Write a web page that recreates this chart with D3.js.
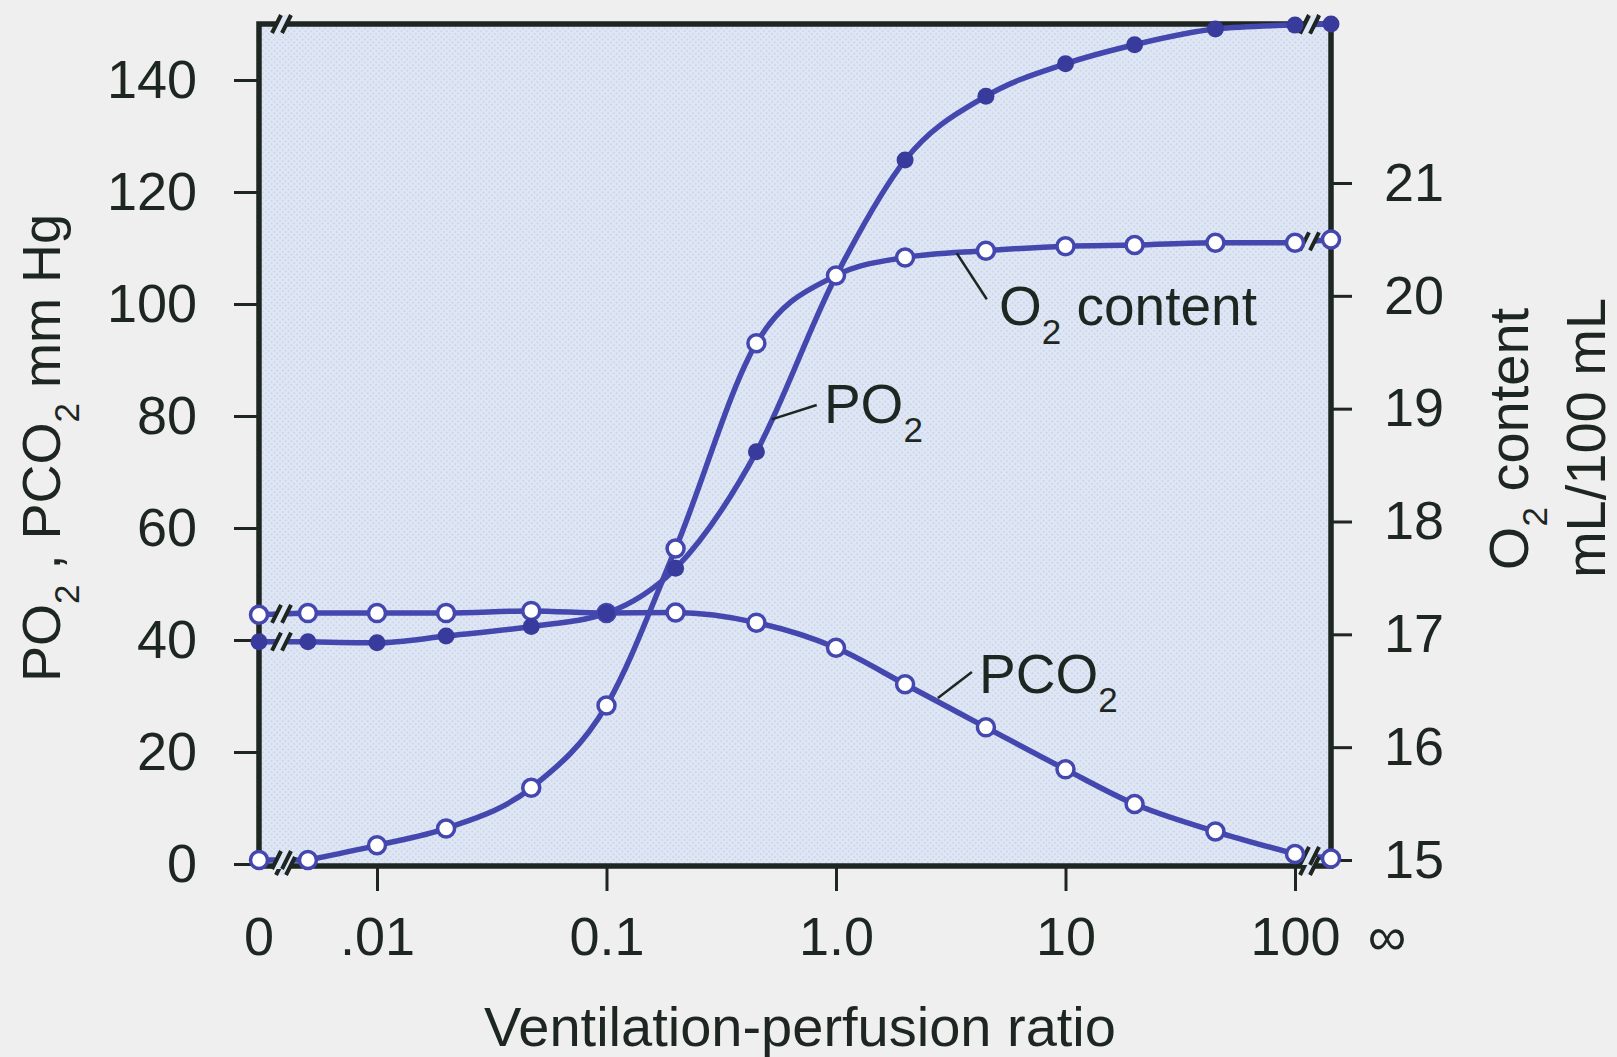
<!DOCTYPE html>
<html>
<head>
<meta charset="utf-8">
<script src="https://cdn.jsdelivr.net/npm/d3@7"></script>
<style>
  html, body { margin: 0; padding: 0; background: #efefef; }
  svg { display: block; }
  text { font-family: "Liberation Sans", Arial, Helvetica, sans-serif; fill: #1e2622; }
</style>
</head>
<body>
<div id="graph"></div>
<script>
// ventilation-perfusion ratio; 0 and Infinity sit on the left / right frame
const ratios = [0, 0.005, 0.01, 0.02, 0.047, 0.1, 0.2, 0.45, 1, 2, 4.5, 10, 20, 45, 100, Infinity]
// mm Hg (left axis)
const po2 = [39.7, 39.7, 39.5, 40.7, 42.4, 44.8, 52.8, 73.6, 105, 125.7, 137.1, 142.9, 146.3, 149.1, 149.8, 150]
const pco2 = [44.5, 44.8, 44.8, 44.8, 45.2, 44.8, 44.9, 43.1, 38.6, 32.1, 24.4, 16.9, 10.7, 5.8, 1.8, 1.0]
// mL/100 mL (right axis)
const o2Content = [15.0, 15.0, 15.13, 15.28, 15.64, 16.37, 17.76, 19.58, 20.18, 20.34, 20.40, 20.44, 20.45, 20.47, 20.47, 20.5]

const leftTicks = [0, 20, 40, 60, 80, 100, 120, 140]
const rightTicks = [15, 16, 17, 18, 19, 20, 21]
const xTicks = [0.01, 0.1, 1, 10, 100]
const xTickLabels = [".01", "0.1", "1.0", "10", "100"]

const W = 1617, H = 1057
const frame = {left: 259, right: 1331, top: 24, bottom: 866}
const ink = "#1e2622"
const curveColor = "#4447ae"
const dotColor = "#383b9c"
const plotFill = "#dfe7f5"
const fontSize = 54

const svg = d3.select("#graph")
  .append("svg")
    .attr("width", W)
    .attr("height", H)

const x = d3.scaleLog().domain([0.01, 100]).range([377, 1295])
const yLeft = d3.scaleLinear().domain([0, 150]).range([864, frame.top])
const yRight = d3.scaleLinear().domain([15, 21]).range([860, 183])

function xPos(r) {
  if (r === 0) return frame.left
  if (r === Infinity) return frame.right
  return x(r)
}

// halftone-ish paper texture
const pat = svg.append("defs").append("pattern")
  .attr("id", "halftone")
  .attr("width", 4).attr("height", 4)
  .attr("patternUnits", "userSpaceOnUse")
  .attr("patternTransform", "rotate(45)")
pat.append("rect").attr("width", 4).attr("height", 4).attr("fill", plotFill)
pat.append("circle").attr("cx", 2).attr("cy", 2).attr("r", 0.75).attr("fill", "#b5c2df")

svg.append("rect")
  .attr("x", frame.left).attr("y", frame.top)
  .attr("width", frame.right - frame.left)
  .attr("height", frame.bottom - frame.top)
  .attr("fill", "url(#halftone)")
  .attr("stroke", ink)
  .attr("stroke-width", 5.5)

// axes
const axisL = svg.append("g")
  .attr("transform", "translate(" + frame.left + ",0)")
  .call(d3.axisLeft(yLeft).tickValues(leftTicks).tickSize(25).tickPadding(37))
const axisR = svg.append("g")
  .attr("transform", "translate(" + frame.right + ",0)")
  .call(d3.axisRight(yRight).tickValues(rightTicks).tickFormat(d3.format("d")).tickSize(21).tickPadding(32))
const axisB = svg.append("g")
  .attr("transform", "translate(0," + frame.bottom + ")")
  .call(d3.axisBottom(x).tickValues(xTicks)
    .tickFormat((d, i) => xTickLabels[i]).tickSize(25).tickPadding(26))

;[axisL, axisR, axisB].forEach(g => {
  g.select(".domain").remove()
  g.selectAll(".tick line").attr("stroke", ink).attr("stroke-width", 3)
  g.selectAll(".tick text")
    .attr("font-size", fontSize)
    .attr("font-family", null)
    .attr("fill", ink)
})

// the "0" and "infinity" ends of the log axis
const xLabelY = frame.bottom + 25 + 26
svg.append("text")
  .attr("x", frame.left).attr("y", xLabelY).attr("dy", "0.71em")
  .attr("text-anchor", "middle").attr("font-size", fontSize)
  .text("0")
svg.append("text")
  .attr("x", frame.right + 56).attr("y", xLabelY).attr("dy", "0.71em")
  .attr("text-anchor", "middle").attr("font-size", fontSize)
  .text("\u221e")

// curves
const series = [
  {values: pco2, y: yLeft, filled: false},
  {values: po2, y: yLeft, filled: true},
  {values: o2Content, y: yRight, filled: false},
]

const smooth = d3.line().curve(d3.curveMonotoneX)
const straight = d3.line()

const breakLeftX = 283, breakRightX = 1311

function atX(p0, p1, px) {
  const t = (px - p0[0]) / (p1[0] - p0[0])
  return p0[1] + t * (p1[1] - p0[1])
}

function breakMark(cx, cy) {
  const g = svg.append("g").attr("transform", "translate(" + cx + "," + cy + ")")
  g.append("path")
    .attr("d", "M-11,9 L-2,-9 L7,-9 L-2,9 Z")
    .attr("fill", plotFill)
  g.append("path")
    .attr("d", "M-11,9 L-2,-9 M-1,9 L8,-9")
    .attr("stroke", ink)
    .attr("stroke-width", 4)
    .attr("fill", "none")
}

series.forEach(s => {
  const pts = ratios.map((r, i) => [xPos(r), s.y(s.values[i])])
  const n = pts.length
  s.pts = pts
  ;[straight([pts[0], pts[1]]), smooth(pts.slice(1, n - 1)), straight([pts[n - 2], pts[n - 1]])]
    .forEach(d => {
      svg.append("path")
        .attr("d", d)
        .attr("fill", "none")
        .attr("stroke", curveColor)
        .attr("stroke-width", 5.5)
        .attr("stroke-linecap", "round")
    })
})

// axis breaks
breakMark(breakLeftX, frame.top)
breakMark(breakLeftX + 4, frame.bottom)
breakMark(breakRightX, frame.top)
breakMark(breakRightX, frame.bottom)
series.forEach(s => {
  const p = s.pts, n = p.length
  breakMark(breakLeftX, atX(p[0], p[1], breakLeftX))
  breakMark(breakRightX, atX(p[n - 2], p[n - 1], breakRightX))
})

// points
series.forEach(s => {
  svg.append("g")
    .selectAll("circle")
    .data(s.pts)
    .join("circle")
      .attr("cx", d => d[0])
      .attr("cy", d => d[1])
      .attr("r", s.filled ? 8.5 : 8.5)
      .attr("fill", s.filled ? dotColor : "#ffffff")
      .attr("stroke", s.filled ? "none" : curveColor)
      .attr("stroke-width", 3.5)
})

// curve labels with leader lines
const annotations = [
  {main: "PO", sub: "2", tail: "", y: yLeft, from: [0.525, 79.4], to: [0.824, 81.96], at: [0.886, 78.75]},
  {main: "PCO", sub: "2", tail: "", y: yLeft, from: [2.78, 29.64], to: [3.91, 34.29], at: [4.2, 30.5]},
  {main: "O", sub: "2", tail: " content", y: yRight, from: [3.36, 20.377], to: [4.54, 19.97], at: [5.13, 19.74]},
]

function subText(sel, a) {
  sel.append("tspan").text(a.main)
  sel.append("tspan").attr("font-size", 35).attr("dy", 19).text(a.sub)
  if (a.tail) sel.append("tspan").attr("dy", -19).text(a.tail)
}

annotations.forEach(a => {
  svg.append("line")
    .attr("x1", x(a.from[0])).attr("y1", a.y(a.from[1]))
    .attr("x2", x(a.to[0])).attr("y2", a.y(a.to[1]))
    .attr("stroke", ink)
    .attr("stroke-width", 2.5)
  const t = svg.append("text")
    .attr("x", x(a.at[0])).attr("y", a.y(a.at[1]))
    .attr("font-size", 55)
  subText(t, a)
})

// axis titles
const leftTitle = svg.append("text")
  .attr("transform", "translate(60,448) rotate(-90)")
  .attr("text-anchor", "middle")
  .attr("font-size", fontSize)
leftTitle.append("tspan").text("PO")
leftTitle.append("tspan").attr("font-size", 35).attr("dy", 19).text("2")
leftTitle.append("tspan").attr("dy", -19).text(" , PCO")
leftTitle.append("tspan").attr("font-size", 35).attr("dy", 19).text("2")
leftTitle.append("tspan").attr("dy", -19).text(" mm Hg")

const rightTitle = svg.append("text")
  .attr("transform", "translate(1528,439) rotate(-90)")
  .attr("text-anchor", "middle")
  .attr("font-size", 56)
rightTitle.append("tspan").text("O")
rightTitle.append("tspan").attr("font-size", 35).attr("dy", 19).text("2")
rightTitle.append("tspan").attr("dy", -19).text(" content")

svg.append("text")
  .attr("transform", "translate(1605,438) rotate(-90)")
  .attr("text-anchor", "middle")
  .attr("font-size", 56)
  .text("mL/100 mL")

svg.append("text")
  .attr("x", 800).attr("y", 1046)
  .attr("text-anchor", "middle")
  .attr("font-size", 56)
  .text("Ventilation-perfusion ratio")
</script>
</body>
</html>
